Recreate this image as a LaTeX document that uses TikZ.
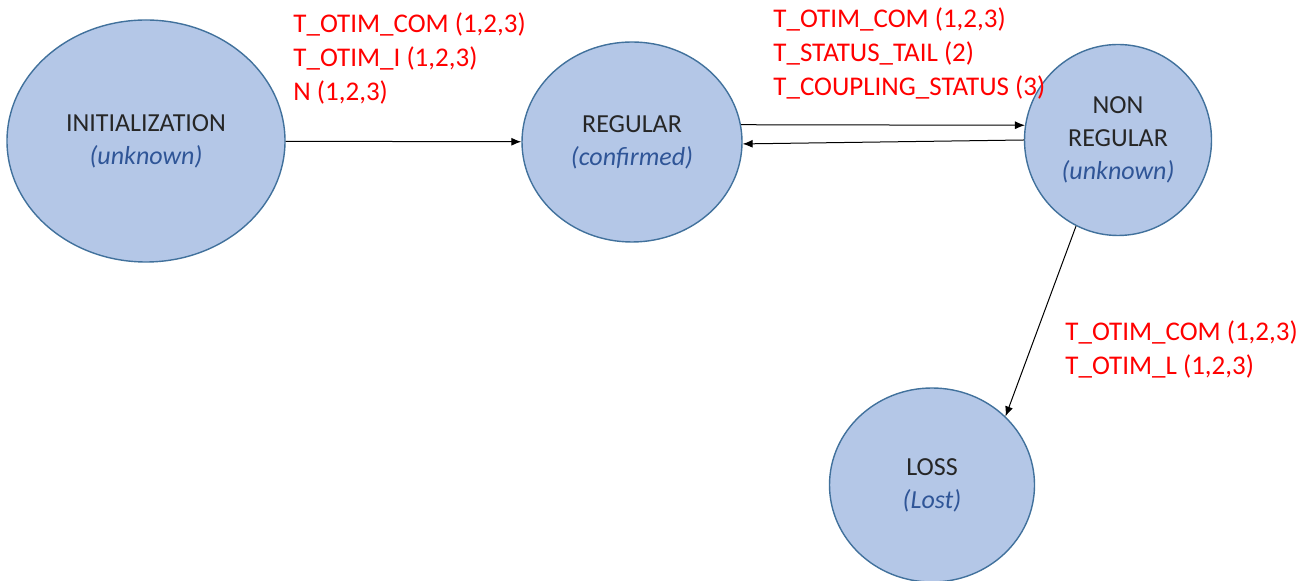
\documentclass[tikz,border=0pt]{standalone}
\usepackage{fontspec}
\setmainfont{Carlito}
\usepackage{tikz}
\usetikzlibrary{arrows.meta}
\usetikzlibrary{shapes.geometric,positioning}
\tikzset{font={\fontsize{13pt}{16.5pt}\selectfont}}
\usepackage{xcolor}
\definecolor{statefill}{RGB}{180,199,231}
\definecolor{stateline}{RGB}{65,113,156}
\definecolor{statusblue}{RGB}{47,85,151}
\newcommand{\status}[1]{\textcolor{statusblue}{\textit{#1}}}

\begin{document}
\begin{tikzpicture}[x=0.5pt,y=-0.5pt,
state/.style={ellipse,draw=stateline,line width=0.7pt,fill=statefill,inner sep=0pt,align=center,text=black!85},
trans/.style={text=red,align=left,anchor=north west,inner sep=0pt,font={\fontsize{13.5pt}{17pt}\selectfont}},
go/.style={-{Latex[length=5pt,width=4pt]},line width=0.5pt}
]
\useasboundingbox (0,0) rectangle (1304,581);
\node[state,minimum width=139pt,minimum height=121pt] (init) at (146,141) {INITIALIZATION\\\status{(unknown)}};
\node[state,minimum width=110pt,minimum height=100pt] (reg) at (632,142) {REGULAR\\\status{(confirmed)}};
\node[state,minimum width=93.5pt,minimum height=95.5pt] (nonreg) at (1118,140) {NON\\REGULAR\\\status{(unknown)}};
\node[state,minimum width=102.5pt,minimum height=97pt] (loss) at (932,485) {LOSS\\\status{(Lost)}};

\draw[go] (init) -- (reg);
\draw[go] (reg.9) -- (nonreg.171);
\draw[go] (nonreg.180) -- (reg.-1);
\draw[go] (nonreg.244) -- (loss.43);

\node[trans] (t1) at (293,12) {T\_OTIM\_COM (1,2,3)\\T\_OTIM\_I (1,2,3)\\N (1,2,3)};
\node[trans] (t2) at (773,7) {T\_OTIM\_COM (1,2,3)\\T\_STATUS\_TAIL (2)\\T\_COUPLING\_STATUS (3)};
\node[trans] (t3) at (1065,320) {T\_OTIM\_COM (1,2,3)\\T\_OTIM\_L (1,2,3)};

\end{tikzpicture}
\end{document}
